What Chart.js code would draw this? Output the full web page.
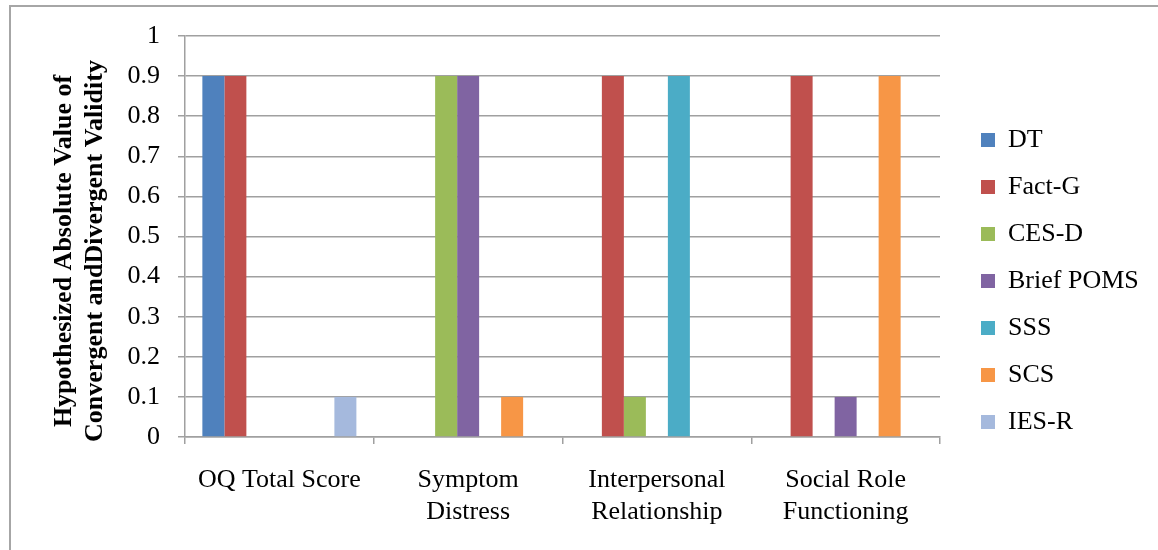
<!DOCTYPE html>
<html>
<head>
<meta charset="utf-8">
<script src="https://cdn.jsdelivr.net/npm/chart.js@4"></script>
<style>
  html, body { margin: 0; padding: 0; background: #fff; }
  #wrap { position: relative; width: 1158px; height: 550px; overflow: hidden; }
  #frame { position: absolute; left: 9px; top: 5px; width: 1200px; height: 600px; border: 2px solid #a6a6a6; }
  canvas { position: absolute; left: 0; top: 0; }
</style>
</head>
<body>
<div id="wrap">
  <div id="frame"></div>
  <canvas id="chart" width="1158" height="550"></canvas>
</div>
<script>
const categories = ['OQ Total Score', ['Symptom', 'Distress'], ['Interpersonal', 'Relationship'], ['Social Role', 'Functioning']];
const seriesNames = ['DT', 'Fact-G', 'CES-D', 'Brief POMS', 'SSS', 'SCS', 'IES-R'];
const dt = [0.9, 0, 0, 0];
const factG = [0.9, 0, 0.9, 0.9];
const cesD = [0, 0.9, 0.1, 0];
const briefPoms = [0, 0.9, 0, 0.1];
const sss = [0, 0, 0.9, 0];
const scs = [0, 0.1, 0, 0.9];
const iesR = [0.1, 0, 0, 0];
const yTitle = ['Hypothesized Absolute Value of', 'Convergent andDivergent Validity'];

const colors = ['#4f81bd', '#c0504d', '#9bbb59', '#8064a2', '#4bacc6', '#f79646', '#a5b9dd'];
const values = [dt, factG, cesD, briefPoms, sss, scs, iesR];

const serif = "'Liberation Serif', 'DejaVu Serif', serif";
const gridColor = '#a0a0a0';

// y title drawn by hand so it sits where the original has it
const yTitlePlugin = {
  id: 'yTitle',
  afterDraw(chart) {
    const ctx = chart.ctx;
    ctx.save();
    ctx.fillStyle = '#000';
    ctx.font = 'bold 26px ' + serif;
    ctx.textAlign = 'center';
    ctx.textBaseline = 'alphabetic';
    ctx.translate(0, 251);
    ctx.rotate(-Math.PI / 2);
    ctx.fillText(yTitle[0], 0, 71);
    ctx.fillText(yTitle[1], 0, 102);
    ctx.restore();
  }
};

// push the legend where it is in the reference
const legendPlace = {
  id: 'legendPlace',
  afterInit(chart) {
    const lg = chart.legend;
    const fit = lg.fit;
    lg.fit = function () { fit.call(this); this.width = 218; };
  },
  afterLayout(chart) {
    const lg = chart.legend;
    lg.left = 960; lg.right = 1178;
    lg.top = 106; lg.bottom = 550;
  }
};

new Chart(document.getElementById('chart'), {
  type: 'bar',
  data: {
    labels: categories,
    datasets: seriesNames.map((n, i) => ({
      label: n,
      data: values[i],
      backgroundColor: colors[i],
      borderWidth: 0,
      barPercentage: 1,
      categoryPercentage: 0.816
    }))
  },
  options: {
    responsive: false,
    animation: false,
    layout: { padding: { left: 0, top: 36, right: 0, bottom: 0 } },
    plugins: {
      legend: {
        position: 'right',
        align: 'start',
        labels: {
          boxWidth: 14,
          boxHeight: 14,
          padding: 21,
          color: '#000',
          font: { family: serif, size: 26 }
        }
      },
      tooltip: { enabled: false }
    },
    scales: {
      x: {
        afterFit(s) { s.height = 113; },
        grid: { offset: true, drawOnChartArea: false, drawTicks: true, tickLength: 7, color: gridColor, lineWidth: 1.5 },
        border: { display: true, color: gridColor, width: 1.5 },
        ticks: { color: '#000', padding: 20, maxRotation: 0, autoSkip: false, font: { family: serif, size: 26, lineHeight: 1.23 } }
      },
      y: {
        min: 0,
        max: 1,
        afterFit(s) { s.width = 185; },
        grid: { color: gridColor, lineWidth: 1.5, tickLength: 7 },
        border: { display: true, color: gridColor, width: 1.5 },
        ticks: {
          stepSize: 0.1,
          color: '#000',
          padding: 18,
          font: { family: serif, size: 26 },
          callback: v => String(+v.toFixed(1))
        }
      }
    }
  },
  plugins: [yTitlePlugin, legendPlace]
});
</script>
</body>
</html>
